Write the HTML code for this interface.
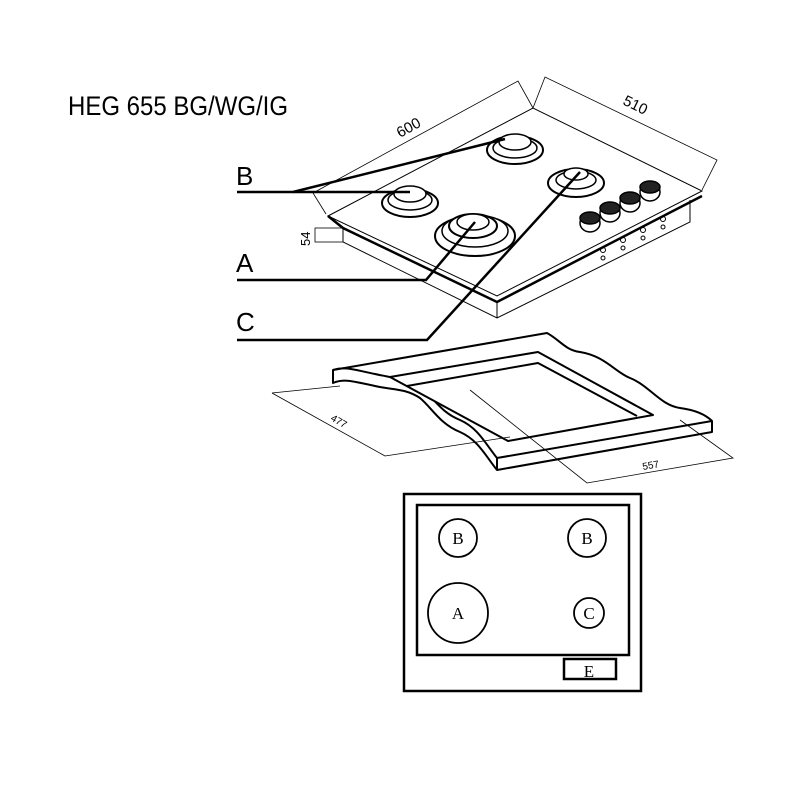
<!DOCTYPE html>
<html><head><style>body{margin:0;background:#fff}svg{display:block}</style></head><body>
<svg width="800" height="800" viewBox="0 0 800 800" xmlns="http://www.w3.org/2000/svg" font-family="Liberation Sans, sans-serif">
<rect width="800" height="800" fill="#fff"/>
<text x="68" y="115" font-size="27" textLength="220" lengthAdjust="spacingAndGlyphs">HEG 655 BG/WG/IG</text>

<g stroke="#000" stroke-width="0.8" fill="none">
<path d="M313,193 L518,81 L533,108"/>
<path d="M313,193 L326,214"/>
<path d="M533,108 L545,77 L717,160 L702,190"/>
</g>
<text x="0" y="0" font-size="15" transform="translate(400,138) rotate(-29)">600</text>
<text x="0" y="0" font-size="15" transform="translate(622,104) rotate(26)">510</text>

<g stroke="#000" fill="none">
<path d="M328,216 L533,108 L702,191 L497,296 Z" stroke-width="1" fill="#fff"/>
<path d="M328,216 L343,228 L497,302 L702,196" stroke-width="2.5"/>
<path d="M343,228 L343,242 L497,318 L690,222 L690,200" stroke-width="1"/>
<path d="M497,302 L497,318" stroke-width="1"/>
<rect x="315" y="228" width="28" height="14" stroke-width="0.8"/>
</g>
<text font-size="13" transform="translate(310,246) rotate(-90)">54</text>

<g stroke="#000" fill="#fff">
<ellipse cx="515" cy="150" rx="28" ry="14" stroke-width="2"/>
<ellipse cx="515" cy="148" rx="22" ry="10" stroke-width="1.5"/>
<ellipse cx="515" cy="142" rx="16" ry="8" stroke-width="1.5"/>
<ellipse cx="410" cy="203" rx="28" ry="14" stroke-width="2"/>
<ellipse cx="410" cy="200" rx="22" ry="10" stroke-width="1.5"/>
<ellipse cx="410" cy="194" rx="16" ry="8" stroke-width="1.5"/>
<ellipse cx="475" cy="236" rx="40" ry="20" stroke-width="2"/>
<ellipse cx="475" cy="231" rx="33" ry="16" stroke-width="1.5"/>
<ellipse cx="473" cy="226" rx="24" ry="12" stroke-width="2"/>
<ellipse cx="473" cy="222" rx="16" ry="8" stroke-width="1.5"/>
<ellipse cx="576" cy="183" rx="28" ry="14" stroke-width="2"/>
<ellipse cx="576" cy="180" rx="20" ry="9" stroke-width="1.5"/>
<ellipse cx="576" cy="174" rx="12" ry="6" stroke-width="1.5"/>
</g>
<g stroke="#000" stroke-width="1.5">
<ellipse cx="590" cy="223" rx="10" ry="9" fill="#fff"/><ellipse cx="590" cy="218" rx="10" ry="6" fill="#222"/>
<ellipse cx="610" cy="213" rx="10" ry="9" fill="#fff"/><ellipse cx="610" cy="208" rx="10" ry="6" fill="#222"/>
<ellipse cx="630" cy="203" rx="10" ry="9" fill="#fff"/><ellipse cx="630" cy="198" rx="10" ry="6" fill="#222"/>
<ellipse cx="650" cy="192" rx="10" ry="9" fill="#fff"/><ellipse cx="650" cy="187" rx="10" ry="6" fill="#222"/>
</g>
<g stroke="#000" fill="none" stroke-width="1">
<circle cx="603" cy="250" r="2.5"/><circle cx="623" cy="240" r="2.5"/><circle cx="643" cy="230" r="2.5"/><circle cx="663" cy="219" r="2.5"/>
<circle cx="603" cy="258" r="2"/><circle cx="623" cy="248" r="2"/><circle cx="643" cy="238" r="2"/><circle cx="663" cy="227" r="2"/>
</g>

<g stroke="#000" stroke-width="2.5" fill="none">
<path d="M237,192 L293,192 L505,139"/>
<path d="M293,192 L410,192"/>
<path d="M237,280 L426,280 L475,222"/>
<path d="M237,340 L427,340 L580,172"/>
</g>
<g font-size="26">
<text x="236" y="185">B</text>
<text x="236" y="272">A</text>
<text x="236" y="331">C</text>
</g>

<!-- cutout -->
<g stroke="#000" stroke-width="2" fill="#fff" stroke-linejoin="round">
<path d="M333,370 L547,333 C560,340 565,350 580,352 C605,356 615,372 630,378 C650,386 660,405 680,408 C695,410 705,414 712,421 L712,432 L497,470 C485,455 478,440 460,432 C440,424 432,408 420,398 C405,388 392,390 375,386 C355,382 345,378 333,383 Z"/>
<path d="M333,370 C345,366 355,370 375,374 C392,378 405,378 420,388 C435,398 440,412 460,420 C478,428 485,443 497,458 L712,421" fill="none"/>
<path d="M497,458 L497,470" fill="none"/>
<path d="M390,377 L538,352 L653,415 L508,441 Z" fill="#fff"/>
<path d="M407,386 L538,363 L637,416" fill="none"/>
</g>
<g stroke="#000" stroke-width="0.8" fill="none">
<path d="M272,393 L385,456 L510,437"/>
<path d="M272,393 L340,386"/>
<path d="M470,390 L587,483 L733,458 L680,420"/>
</g>
<text font-size="10" transform="translate(330,420) rotate(30)">477</text>
<text font-size="10" transform="translate(643,470) rotate(-10)">557</text>

<g stroke="#000" fill="none">
<rect x="404" y="494" width="237" height="197" stroke-width="2.5"/>
<rect x="417" y="505" width="212" height="150" stroke-width="2.5"/>
<rect x="564" y="659" width="52" height="20" stroke-width="2.5"/>
<circle cx="458" cy="538" r="19" stroke-width="1.8"/>
<circle cx="587" cy="538" r="19" stroke-width="1.8"/>
<circle cx="458" cy="613" r="30" stroke-width="1.8"/>
<circle cx="589" cy="613" r="15" stroke-width="1.8"/>
</g>
<g font-family="Liberation Serif, serif" font-size="17" text-anchor="middle">
<text x="458" y="544">B</text>
<text x="587" y="544">B</text>
<text x="458" y="619">A</text>
<text x="589" y="619">C</text>
<text x="589" y="677">E</text>
</g>
</svg>
</body></html>
